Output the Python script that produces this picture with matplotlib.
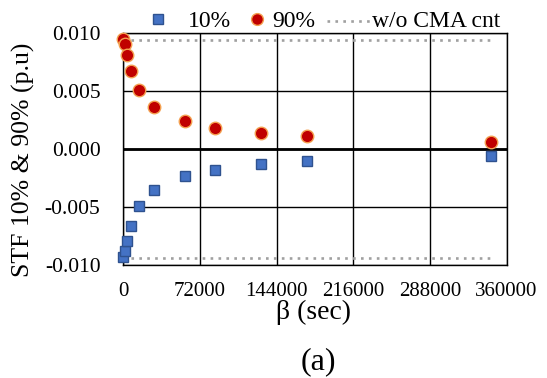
import matplotlib
matplotlib.use("Agg")
import matplotlib.pyplot as plt
from matplotlib.lines import Line2D

# data
beta = [0, 1800, 3600, 7200, 14400, 28800, 57600, 86400, 129600, 172800, 345600]
stf_90 = [0.00948, 0.00905, 0.00813, 0.00675, 0.0051, 0.00365, 0.00244, 0.00178, 0.00141, 0.00115, 0.00063]
stf_10 = [-0.00934, -0.00877, -0.00793, -0.00664, -0.00491, -0.00353, -0.00233, -0.00181, -0.00127, -0.00103, -0.0006]
wo_cma_x = [0, 345600]
wo_cma_hi = 0.0094
wo_cma_lo = -0.0094
xticks = [0, 72000, 144000, 216000, 288000, 360000]
yticks = [-0.010, -0.005, 0.000, 0.005, 0.010]

plt.rcParams["font.family"] = ["Liberation Serif", "DejaVu Serif"]

W, H = 547, 378
BLUE, BLUE_EDGE = "#4472C4", "#2F528F"
RED, RED_EDGE = "#C00000", "#F4A050"
GRAY = "#A0A0A0"
DOTS = (0, (1, 2))

fig = plt.figure(figsize=(W / 100, H / 100), dpi=100)
ax = fig.add_axes([123.3 / W, 1 - 265 / H, (506.5 - 123.3) / W, (265 - 33) / H])

ax.set_xlim(0, 360000)
ax.set_ylim(-0.010, 0.010)
ax.set_xticks(xticks)
ax.set_yticks(yticks)
ax.set_xticklabels([str(v) for v in xticks], fontsize=15)
ax.set_yticklabels([f"{v:.3f}" for v in yticks], fontsize=15.5)
ax.tick_params(axis="x", length=0, pad=12)
ax.tick_params(axis="y", length=0, pad=16.5)
ax.grid(True, color="black", linewidth=1.0)
ax.axhline(0, color="black", linewidth=2.0, zorder=1)
for s in ax.spines.values():
    s.set_linewidth(1.0)

ax.plot(wo_cma_x, [wo_cma_hi, wo_cma_hi], color=GRAY, linestyle=DOTS, linewidth=1.9, zorder=2)
ax.plot(wo_cma_x, [wo_cma_lo, wo_cma_lo], color=GRAY, linestyle=DOTS, linewidth=1.9, zorder=2)

ax.plot(beta, stf_10, linestyle="none", marker="s", markersize=7.5,
        markerfacecolor=BLUE, markeredgecolor=BLUE_EDGE, markeredgewidth=1.0,
        clip_on=False, zorder=4)
ax.plot(beta, stf_90, linestyle="none", marker="o", markersize=9,
        markerfacecolor=RED, markeredgecolor=RED_EDGE, markeredgewidth=1.0,
        clip_on=False, zorder=4)

fig.text(23 / W, 1 - 160 / H, "STF 10% & 90% (p.u)", rotation=90,
         ha="center", va="center", fontsize=18.5)
fig.text(313 / W, 1 - 312 / H, "β (sec)", ha="center", va="center", fontsize=20)
fig.text(318 / W, 1 - 362 / H, "(a)", ha="center", va="center", fontsize=23)

# legend drawn by hand, laid out like the original one
ly = 1 - 19 / H
lb = 1 - 27 / H
fig.add_artist(Line2D([158 / W], [ly], linestyle="none", marker="s", markersize=7,
                      markerfacecolor=BLUE, markeredgecolor=BLUE_EDGE))
fig.text(188 / W, lb, "10%", ha="left", va="baseline", fontsize=17)
fig.add_artist(Line2D([257 / W], [ly], linestyle="none", marker="o", markersize=8.5,
                      markerfacecolor=RED, markeredgecolor=RED_EDGE))
fig.text(272 / W, lb, "90%", ha="left", va="baseline", fontsize=17)
fig.add_artist(Line2D([327 / W, 370 / W], [1 - 21 / H, 1 - 21 / H], color=GRAY,
                      linestyle=DOTS, linewidth=1.9))
fig.text(372 / W, lb, "w/o CMA cnt", ha="left", va="baseline", fontsize=17)

fig.savefig("out.png", dpi=100)
